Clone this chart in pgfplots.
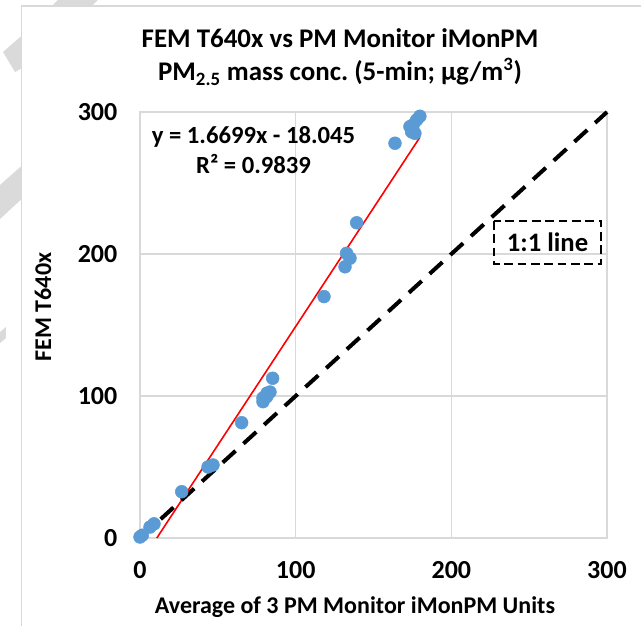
\documentclass[border=0pt]{standalone}
\usepackage{fontspec}
\setmainfont{Carlito}
\usepackage{pgfplots}
\pgfplotsset{compat=1.18}
\frenchspacing

\definecolor{ptblue}{HTML}{5B9BD5}
\definecolor{gridgray}{HTML}{D9D9D9}
\definecolor{wmgray}{HTML}{DADADA}

\begin{document}
\begin{tikzpicture}
% pixel frame: (140,538) px is the lower left corner of the plot area
\begin{scope}[x=0.75pt,y=-0.75pt,shift={(-140,-538)}]
  \path[use as bounding box] (0,0) rectangle (641,625);
  % faint watermark pieces outside the chart frame
  \fill[wmgray] (58,0) -- (98,0) -- (90,8) -- (50,8) -- cycle;
  \fill[wmgray] (3,52) -- (26,32) -- (26,66) -- (15,72) -- cycle;
  \fill[wmgray] (0,185) -- (26,162) -- (26,195) -- (0,219) -- cycle;
  \fill[wmgray] (0,332) -- (6,327) -- (6,338) -- (0,343) -- cycle;
  \filldraw[fill=white, draw=gridgray, line width=1.1pt] (21.5,6) rectangle (660,640);
\end{scope}

\begin{axis}[
  scale only axis,
  width=350.25pt, height=319.5pt,
  xmin=0, xmax=300, ymin=0, ymax=300,
  xtick={0,100,200,300}, ytick={0,100,200,300},
  grid=major,
  grid style={line width=1.1pt, gridgray},
  axis line style={line width=1.1pt, gridgray},
  major tick length=0pt,
  tick label style={font=\fontsize{19.5}{22}\selectfont\bfseries},
  /pgf/number format/assume math mode=true,
  yticklabel style={xshift=-13.5pt},
  xticklabel style={yshift=-14pt},
  clip=false,
]
\addplot[only marks, mark=*, mark size=4.8pt, mark options={fill=ptblue, draw=ptblue}]
  coordinates {
  (0,0.7) (1.5,2) (6.4,7.7) (9,10) (26.8,32.6)
  (43.7,50) (46.9,51.4) (65.3,81.2)
  (79,96) (79,98.6) (81.4,99.5) (81.6,102) (83.5,102.8) (85.2,112.5)
  (118.2,170) (131.7,191) (132.7,200.5) (134.9,197) (139.2,222)
  (163.8,278) (173.4,289.7) (174.5,286) (175.5,291) (176.6,285)
  (177.7,294.4) (179.8,297)
};
% linear trendline y = 1.6699x - 18.045 over the data range
\addplot[red, line width=1.2pt] coordinates {(10.806,0) (179.8,282.2)};
% 1:1 line
\addplot[black, line width=3pt, dash pattern=on 13pt off 8pt] coordinates {(0,0) (300,300)};
\end{axis}

\begin{scope}[x=0.75pt,y=-0.75pt,shift={(-140,-538)}]
  \node[font=\fontsize{20.2}{24}\selectfont\bfseries] at (340,38) {FEM T640x vs PM Monitor iMonPM};
  \node[font=\fontsize{20.2}{24}\selectfont\bfseries] at (340,72) {PM\textsubscript{2.5} mass conc. (5-min; µg/m\textsuperscript{3})};
  \node[font=\fontsize{18}{21}\selectfont\bfseries] at (355,607) {Average of 3 PM Monitor iMonPM Units};
  \node[font=\fontsize{18}{21}\selectfont\bfseries, rotate=90] at (43,307) {FEM T640x};
  \node[font=\fontsize{18.5}{21}\selectfont\bfseries] at (253.5,137) {y = 1.6699x - 18.045};
  \node[font=\fontsize{18.5}{21}\selectfont\bfseries] at (253.5,164) {R² = 0.9839};
  \draw[black, line width=2pt, dash pattern=on 6.5pt off 3.5pt] (494,221) rectangle (601,264);
  \node[font=\fontsize{20}{24}\selectfont\bfseries] at (547.5,242.5) {1:1 line};
\end{scope}
\end{tikzpicture}
\end{document}
